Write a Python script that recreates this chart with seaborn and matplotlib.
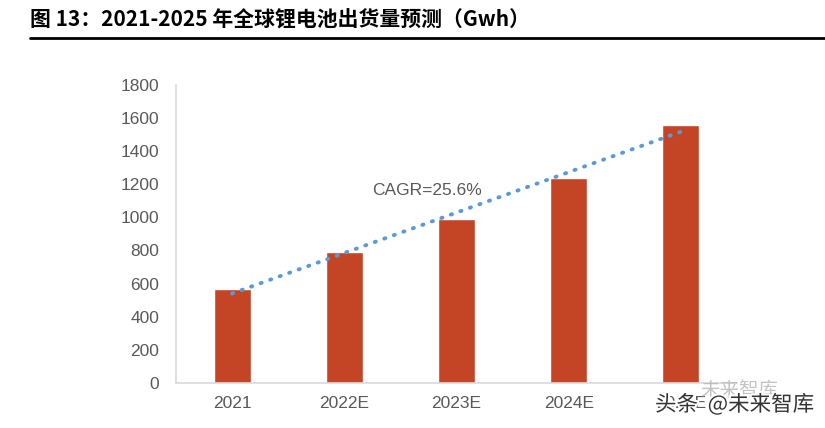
import numpy as np
import matplotlib
matplotlib.use("Agg")
import matplotlib.pyplot as plt
import matplotlib.patheffects as pe
import seaborn as sns

# ── Data ──────────────────────────────────────────────────────────────────────
categories = ["2021", "2022E", "2023E", "2024E", "2025E"]
shipments = [565, 790, 988, 1240, 1560]      # Gwh
y_ticks = [0, 200, 400, 600, 800, 1000, 1200, 1400, 1600, 1800]

TITLE = "图 13：2021-2025 年全球锂电池出货量预测（Gwh）"
CAGR_LABEL = "CAGR=25.6%"
WATERMARK = "头条  @未来智库"
WATERMARK_FADED = "未来智库"

BAR_COLOR = "#C44526"
TREND_COLOR = "#5B9BD5"
TEXT_GRAY = "#595959"
AXIS_GRAY = "#D9D9D9"

sns.set_theme(style="white")
plt.rcParams["font.family"] = ["Liberation Sans", "Noto Sans CJK SC", "DejaVu Sans"]

fig = plt.figure(figsize=(8.25, 4.28), dpi=100)
ax = fig.add_axes([0.2133, 0.105, 0.68, 0.697])

x = np.arange(len(categories))
sns.barplot(x=categories, y=shipments, color=BAR_COLOR, width=0.33,
            saturation=1, ax=ax)

# Linear trend line (like Excel's linear trendline)
sns.regplot(x=x, y=shipments, scatter=False, ci=None, ax=ax,
            line_kws={"color": TREND_COLOR, "linestyle": (0, (0.3, 2.3)),
                      "linewidth": 2.8, "dash_capstyle": "round"})

ax.set_xlim(-0.5, len(categories) - 0.5)
ax.set_ylim(0, 1800)
ax.set_yticks(y_ticks)
ax.set_xticks(x)
ax.set_xticklabels(categories)
ax.set_xticks(np.arange(len(categories) + 1) - 0.5, minor=True)
ax.set_xlabel("")
ax.set_ylabel("")

for s in ["top", "right"]:
    ax.spines[s].set_visible(False)
for s in ["left", "bottom"]:
    ax.spines[s].set_color(AXIS_GRAY)
    ax.spines[s].set_linewidth(1.2)

ax.tick_params(axis="x", which="major", length=0, pad=9,
               labelsize=12.5, labelcolor=TEXT_GRAY)
ax.tick_params(axis="x", which="minor", direction="in", length=4,
               color=AXIS_GRAY, width=1.2)
ax.tick_params(axis="y", direction="in", length=4, color=AXIS_GRAY,
               width=1.2, pad=12, labelsize=12.5, labelcolor=TEXT_GRAY)
ax.grid(False)

ax.text(1.25, 1160, CAGR_LABEL, fontsize=12.5, color=TEXT_GRAY,
        ha="left", va="center")

# Title + rule
fig.text(30 / 825, 1 - 20 / 428, TITLE, fontsize=15, fontweight="bold",
         color="black", ha="left", va="center",
         family=["Noto Sans CJK SC", "DejaVu Sans"])
fig.add_artist(plt.Line2D([30 / 825, 1.0], [1 - 38 / 428, 1 - 38 / 428],
                          color="black", linewidth=2))

# Watermark
fig.text(700 / 825, 1 - 390 / 428, WATERMARK_FADED, fontsize=14,
         color="#B5B5B5", ha="left", va="center", alpha=0.8,
         family=["Noto Sans CJK SC", "DejaVu Sans"])
fig.text(655 / 825, 1 - 405 / 428, WATERMARK, fontsize=15.5,
         color="#333333", ha="left", va="center",
         family=["Noto Sans CJK SC", "DejaVu Sans"],
         path_effects=[pe.withStroke(linewidth=3, foreground="white")])

fig.savefig("out.png", dpi=100)
